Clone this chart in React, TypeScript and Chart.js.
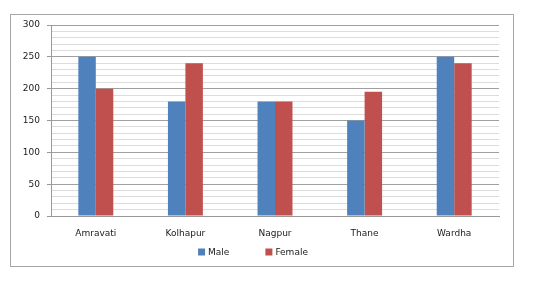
import React, { useEffect, useRef } from "react";
import { Chart, registerables } from "chart.js";

Chart.register(...registerables);

const categories = ["Amravati", "Kolhapur", "Nagpur", "Thane", "Wardha"];
const maleValues = [250, 180, 180, 150, 250];
const femaleValues = [200, 240, 180, 195, 240];
const seriesLabels = ["Male", "Female"];
const seriesColors = ["#4F81BD", "#C0504D"];

const FONT = "'DejaVu Sans', Verdana, sans-serif";
const TEXT = "#1a1a1a";

const framePlugin = {
  id: "frame",
  beforeDraw(chart: any) {
    const ctx = chart.ctx;
    ctx.save();
    ctx.fillStyle = "#ffffff";
    ctx.fillRect(0, 0, chart.width, chart.height);
    ctx.strokeStyle = "#a6a6a6";
    ctx.lineWidth = 1;
    ctx.strokeRect(10.5, 14.5, 503, 252);
    ctx.restore();
  },
  afterDraw(chart: any) {
    const ctx = chart.ctx;
    ctx.save();
    ctx.font = `9px ${FONT}`;
    ctx.textBaseline = "middle";
    const box = 7;
    const gap = 3;
    const spacing = 36;
    const items = chart.data.datasets.map((d: any) => ({
      label: d.label,
      color: d.backgroundColor,
      w: box + gap + ctx.measureText(d.label).width,
    }));
    const total = items.reduce((s: number, it: any) => s + it.w, 0) + spacing * (items.length - 1);
    let x = 253 - total / 2;
    const y = 252;
    for (const it of items) {
      ctx.fillStyle = it.color;
      ctx.fillRect(x, y - box / 2, box, box);
      ctx.fillStyle = TEXT;
      ctx.fillText(it.label, x + box + gap, y + 0.5);
      x += it.w + spacing;
    }
    ctx.restore();
  },
};

export default function App() {
  const ref = useRef<HTMLCanvasElement | null>(null);
  useEffect(() => {
    if (!ref.current) return;
    const chart = new Chart(ref.current, {
      type: "bar",
      data: {
        labels: categories,
        datasets: [
          { label: seriesLabels[0], data: maleValues, backgroundColor: seriesColors[0] },
          { label: seriesLabels[1], data: femaleValues, backgroundColor: seriesColors[1] },
        ],
      },
      options: {
        responsive: false,
        animation: false,
        layout: { padding: { left: 10, top: 25, right: 50, bottom: 23 } },
        plugins: { legend: { display: false }, tooltip: { enabled: false } },
        datasets: { bar: { categoryPercentage: 0.39, barPercentage: 1 } },
        scales: {
          x: {
            grid: { display: false, drawTicks: false },
            border: { display: true, color: "#999999" },
            ticks: { color: TEXT, font: { family: FONT, size: 9 }, padding: 12 },
            afterFit: (s: any) => { s.height = 50; },
          },
          y: {
            min: 0,
            max: 300,
            border: { display: true, color: "#999999" },
            grid: {
              color: (c: any) => (c.tick && c.tick.value % 50 === 0 ? "#a0a0a0" : "#dcdcdc"),
              tickColor: (c: any) => (c.tick && c.tick.value % 50 === 0 ? "#999999" : "rgba(0,0,0,0)"),
              tickLength: 4,
            },
            ticks: {
              stepSize: 10,
              autoSkip: false,
              color: TEXT,
              font: { family: FONT, size: 9 },
              padding: 7,
              callback: (v: any) => (Number(v) % 50 === 0 ? String(v) : ""),
            },
            afterFit: (s: any) => { s.width = 41; },
          },
        },
      },
      plugins: [framePlugin],
    });
    return () => chart.destroy();
  }, []);
  return (
    <div style={{ position: "absolute", left: 0, top: 0, width: 549, height: 289 }}>
      <canvas ref={ref} width={549} height={289} />
    </div>
  );
}
